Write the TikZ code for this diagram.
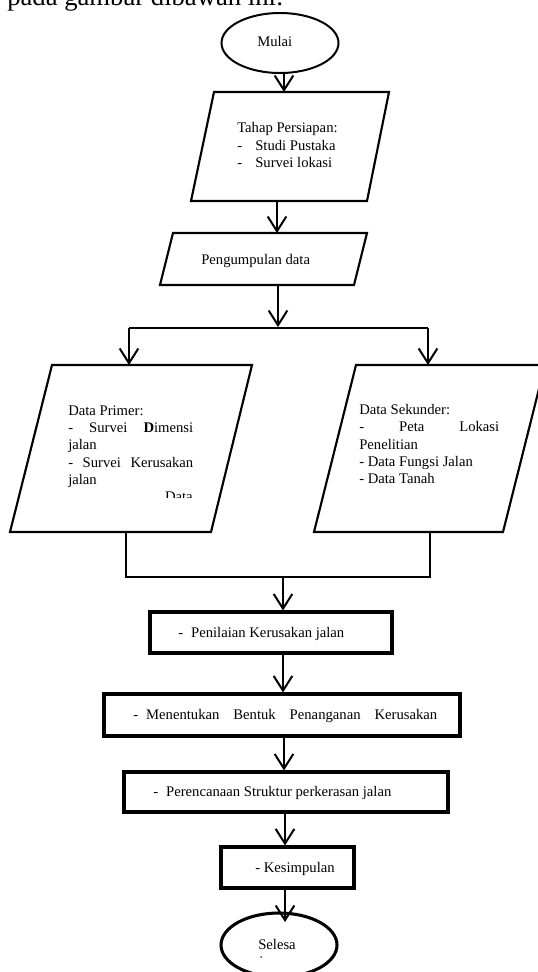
\documentclass[tikz,border=0pt]{standalone}
\usepackage{fontspec}
\setmainfont{Liberation Serif}
\usetikzlibrary{arrows.meta,shapes.geometric}
\begin{document}
\begin{tikzpicture}[x=0.75pt,y=-0.75pt,
  arr/.style={line width=1.5pt,-{Straight Barb[length=11pt,width=14pt]}},
  ln/.style={line width=1.6pt},
  shp/.style={draw,line width=1.6pt,line join=miter},
  boxn/.style={draw,line width=2.3pt,rectangle,inner sep=0pt},
  ovaln/.style={draw,ellipse,inner sep=0pt},
  txt/.style={font=\fontsize{11}{13}\selectfont,inner sep=0pt,anchor=base west},
]
\useasboundingbox (0,0) rectangle (538,972);
\fill[white] (0,0) rectangle (538,972);

% partial line of text at the top edge
\node[inner sep=0pt,anchor=base west,font=\fontsize{20}{24}\selectfont] (toptxt) at (7,5) {pada gambar dibawah ini:};

% start
\node[ovaln,line width=1.5pt,minimum width=87.75pt,minimum height=45pt] (m) at (280,43) {};
\node[txt] (mt) at (257,46) {Mulai};

% parallelogram 1
\draw[shp] (214,92) -- (389,92) -- (367,201) -- (191,201) -- cycle;
\node[txt] (p1a) at (237,132) {Tahap Persiapan:};
\node[txt] (p1b) at (237,150) {-};
\node[txt] (p1c) at (255,150) {Studi Pustaka};
\node[txt] (p1d) at (237,167) {-};
\node[txt] (p1e) at (255,167) {Survei lokasi};

% parallelogram 2
\draw[shp] (173,233) -- (367,233) -- (354,285) -- (160,285) -- cycle;
\node[txt] (p2a) at (201,264) {Pengumpulan data};

% left parallelogram
\draw[shp] (52,365) -- (252,365) -- (211,532) -- (10,532) -- cycle;
\node[txt] (l1) at (68,415) {Data Primer:};
\node[txt] (l2) at (68,432.5) {\hbox to 93.75pt{-\hfill Survei\hfill \textbf{D}imensi}};
\node[txt] (l3) at (68,449.7) {jalan};
\node[txt] (l4) at (68,467) {\hbox to 93.75pt{-\hfill Survei\hfill Kerusakan}};
\node[txt] (l5) at (68,484) {jalan};
\begin{scope}
\clip (0,0) rectangle (538,497);
\node[txt,anchor=base east] (l6) at (193,501.5) {Data};
\end{scope}

% right parallelogram
\draw[shp] (356,365) -- (545,365) -- (503,532) -- (314,532) -- cycle;
\node[txt] (r1) at (359,414) {Data Sekunder:};
\node[txt] (r2) at (359,431.5) {\hbox to 105pt{-\hfill Peta\hfill Lokasi}};
\node[txt] (r3) at (359,449) {Penelitian};
\node[txt] (r4) at (359,466) {- Data Fungsi Jalan};
\node[txt] (r5) at (359,483) {- Data Tanah};

% rectangles
\node[boxn,minimum width=181.5pt,minimum height=30.75pt] (b1) at (271,632.5) {};
\node[txt] (b1t) at (178,637) {-\hspace{6pt}Penilaian Kerusakan jalan};
\node[boxn,minimum width=267pt,minimum height=31.5pt] (b2) at (282,715) {};
\node[txt] (b2t) at (133,719) {\hbox to 228pt{-\hspace{6pt}Menentukan\hfill Bentuk\hfill Penanganan\hfill Kerusakan}};
\node[boxn,minimum width=243pt,minimum height=30pt] (b3) at (286,792) {};
\node[txt] (b3t) at (153,796) {-\hspace{6pt}Perencanaan Struktur perkerasan jalan};
\node[boxn,minimum width=99.75pt,minimum height=30.75pt] (b4) at (287.5,867.5) {};
\node[txt] (b4t) at (255,872) {- Kesimpulan};

% end
\node[ovaln,line width=2.3pt,minimum width=87pt,minimum height=48pt] (s) at (279,945) {};
\node[txt] (st) at (258,949) {Selesa};
\begin{scope}
\clip (0,0) rectangle (538,957);
\node[txt] (st2) at (259,966) {i};
\end{scope}

% connection points
\coordinate (m1) at (284,72);
\coordinate (p1top) at (284,92);
\coordinate (p1bot) at (277,201);
\coordinate (p2top) at (277,233);
\coordinate (p2bot) at (278,285);
\coordinate (brc) at (278,327);
\coordinate (brl) at (129,328);
\coordinate (brr) at (428,328);
\coordinate (pLt) at (129,365);
\coordinate (pRt) at (428,365);
\coordinate (pLb) at (126,532);
\coordinate (pRb) at (430,532);
\coordinate (mgl) at (126,577);
\coordinate (mgr) at (430,577);
\coordinate (mgc) at (283,577);
\coordinate (ax) at (284,0);
\coordinate (ax2) at (285,0);
\coordinate (sT) at (285,922);

% connectors
\draw[arr] (m1) -- (p1top);
\draw[arr] (p1bot) -- (p2top);
\draw[arr] (p2bot) -- (brc);
\draw[ln] (brl) -- (brr);
\draw[arr] (brl) -- (pLt);
\draw[arr] (brr) -- (pRt);
\draw[ln,line join=miter] (pLb) -- (mgl) -- (mgr) -- (pRb);
\draw[arr] (mgc) -- (mgc |- b1.north);
\draw[arr] (b1.south -| mgc) -- (b2.north -| mgc);
\draw[arr] (b2.south -| ax) -- (b3.north -| ax);
\draw[arr] (b3.south -| ax2) -- (b4.north -| ax2);
\draw[arr] (b4.south -| ax2) -- (sT);
\end{tikzpicture}
\end{document}
